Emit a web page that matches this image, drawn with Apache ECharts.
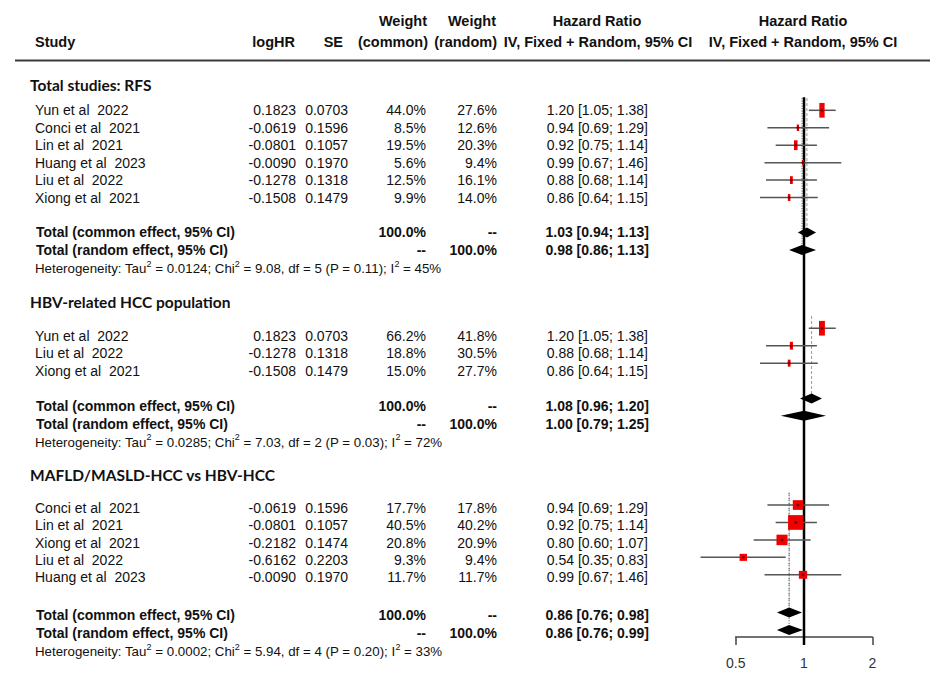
<!DOCTYPE html>
<html>
<head>
<meta charset="utf-8">
<script src="https://cdn.jsdelivr.net/npm/echarts@6/dist/echarts.min.js"></script>
<style>
html,body{margin:0;padding:0;background:#fff;}
#c{width:947px;height:682px;}
</style>
</head>
<body>
<div id="c"></div>
<script>
// ---------------- DATA ----------------
const headerRow1 = ["Weight", "Weight", "Hazard Ratio", "Hazard Ratio"];
const headerRow2 = ["Study", "logHR", "SE", "(common)", "(random)", "IV, Fixed + Random, 95% CI", "IV, Fixed + Random, 95% CI"];
const sectionTitles = ["Total studies: RFS", "HBV-related HCC population", "MAFLD/MASLD-HCC vs HBV-HCC"];
const totalLabels = ["Total (common effect, 95% CI)", "Total (random effect, 95% CI)"];
const xTicks = [0.5, 1, 2];

// Section 1 : Total studies: RFS
const s1Study   = ["Yun et al  2022", "Conci et al  2021", "Lin et al  2021", "Huang et al  2023", "Liu et al  2022", "Xiong et al  2021"];
const s1LogHR   = [0.1823, -0.0619, -0.0801, -0.0090, -0.1278, -0.1508];
const s1SE      = [0.0703, 0.1596, 0.1057, 0.1970, 0.1318, 0.1479];
const s1WCommon = [44.0, 8.5, 19.5, 5.6, 12.5, 9.9];
const s1WRandom = [27.6, 12.6, 20.3, 9.4, 16.1, 14.0];
const s1HR      = [1.20, 0.94, 0.92, 0.99, 0.88, 0.86];
const s1Lower   = [1.05, 0.69, 0.75, 0.67, 0.68, 0.64];
const s1Upper   = [1.38, 1.29, 1.14, 1.46, 1.14, 1.15];
const s1Common  = [1.03, 0.94, 1.13];
const s1Random  = [0.98, 0.86, 1.13];
const s1Het     = ["0.0124", "9.08", "5", "0.11", "45"];

// Section 2 : HBV-related HCC population
const s2Study   = ["Yun et al  2022", "Liu et al  2022", "Xiong et al  2021"];
const s2LogHR   = [0.1823, -0.1278, -0.1508];
const s2SE      = [0.0703, 0.1318, 0.1479];
const s2WCommon = [66.2, 18.8, 15.0];
const s2WRandom = [41.8, 30.5, 27.7];
const s2HR      = [1.20, 0.88, 0.86];
const s2Lower   = [1.05, 0.68, 0.64];
const s2Upper   = [1.38, 1.14, 1.15];
const s2Common  = [1.08, 0.96, 1.20];
const s2Random  = [1.00, 0.79, 1.25];
const s2Het     = ["0.0285", "7.03", "2", "0.03", "72"];

// Section 3 : MAFLD/MASLD-HCC vs HBV-HCC
const s3Study   = ["Conci et al  2021", "Lin et al  2021", "Xiong et al  2021", "Liu et al  2022", "Huang et al  2023"];
const s3LogHR   = [-0.0619, -0.0801, -0.2182, -0.6162, -0.0090];
const s3SE      = [0.1596, 0.1057, 0.1474, 0.2203, 0.1970];
const s3WCommon = [17.7, 40.5, 20.8, 9.3, 11.7];
const s3WRandom = [17.8, 40.2, 20.9, 9.4, 11.7];
const s3HR      = [0.94, 0.92, 0.80, 0.54, 0.99];
const s3Lower   = [0.69, 0.75, 0.60, 0.35, 0.67];
const s3Upper   = [1.29, 1.14, 1.07, 0.83, 1.46];
const s3Common  = [0.86, 0.76, 0.98];
const s3Random  = [0.86, 0.76, 0.99];
const s3Het     = ["0.0002", "5.94", "4", "0.20", "33"];

// ---------------- LAYOUT ----------------
const ROW_PX = 17.45, ROW0_PX = 110.3, AXIS_Y = 637, TICK_LEN = 8;
const Y_MIN = -ROW0_PX / ROW_PX, Y_MAX = (AXIS_Y - ROW0_PX) / ROW_PX;
const PLOT_LEFT = 735.7, PLOT_WIDTH = 136.6;
const layout = [
  { title: -1.45, first: 0,     total: 7,     shift: 0,     aspect: 0.36 },
  { title: 11,    first: 12.93, total: 16.95, shift: -0.44, aspect: 0.4 },
  { title: 20.9,  first: 22.77, total: 28.93, shift: -0.15, aspect: 1.05 }
];
const COL = { title: 30, study: 35, total: 36, logHR: 296, se: 348, wc: 426, wr: 497, hr: 648, hrBold: 649 };
const FONT = '"Liberation Sans", Arial, Helvetica, sans-serif';
const TITLE_FONT = 'Lato, "Open Sans", sans-serif';
const TXT = '#111';
const SQ_MAX = 14.7, DIA_HALF = 5;

const sections = [
  { study: s1Study, logHR: s1LogHR, se: s1SE, wc: s1WCommon, wr: s1WRandom, hr: s1HR, lo: s1Lower, hi: s1Upper, common: s1Common, random: s1Random, het: s1Het },
  { study: s2Study, logHR: s2LogHR, se: s2SE, wc: s2WCommon, wr: s2WRandom, hr: s2HR, lo: s2Lower, hi: s2Upper, common: s2Common, random: s2Random, het: s2Het },
  { study: s3Study, logHR: s3LogHR, se: s3SE, wc: s3WCommon, wr: s3WRandom, hr: s3HR, lo: s3Lower, hi: s3Upper, common: s3Common, random: s3Random, het: s3Het }
];

const fmtCI = (e, l, h) => e.toFixed(2) + ' [' + l.toFixed(2) + '; ' + h.toFixed(2) + ']';
const pct = v => v.toFixed(1) + '%';

// ---------------- TABLE ROWS ----------------
const tableRows = [];
function cell(x, text, align, opt) { return Object.assign({ x, text, align }, opt || {}); }
sections.forEach((s, k) => {
  const L = layout[k];
  tableRows.push({ r: L.title, cells: [cell(COL.title, sectionTitles[k], 'left', { font: 'bold 15.5px ' + TITLE_FONT })] });
  s.study.forEach((name, i) => {
    tableRows.push({ r: L.first + i, cells: [
      cell(COL.study, name, 'left'),
      cell(COL.logHR, s.logHR[i].toFixed(4), 'right'),
      cell(COL.se, s.se[i].toFixed(4), 'right'),
      cell(COL.wc, pct(s.wc[i]), 'right'),
      cell(COL.wr, pct(s.wr[i]), 'right'),
      cell(COL.hr, fmtCI(s.hr[i], s.lo[i], s.hi[i]), 'right')
    ]});
  });
  const B = { font: 'bold 14px ' + FONT };
  tableRows.push({ r: L.total, cells: [
    cell(COL.total, totalLabels[0], 'left', B),
    cell(COL.wc, '100.0%', 'right', B),
    cell(COL.wr, '--', 'right', B),
    cell(COL.hrBold, fmtCI(s.common[0], s.common[1], s.common[2]), 'right', B)
  ]});
  tableRows.push({ r: L.total + 1, cells: [
    cell(COL.total, totalLabels[1], 'left', B),
    cell(COL.wc, '--', 'right', B),
    cell(COL.wr, '100.0%', 'right', B),
    cell(COL.hrBold, fmtCI(s.random[0], s.random[1], s.random[2]), 'right', B)
  ]});
  const h = s.het;
  tableRows.push({ r: L.total + 2, cells: [
    cell(COL.study,
      '{n|Heterogeneity: Tau}{s|2}{n| = ' + h[0] + '; Chi}{s|2}{n| = ' + h[1] + ', df = ' + h[2] + ' (P = ' + h[3] + '); I}{s|2}{n| = ' + h[4] + '%}',
      'left', { rich: {
        n: { fontSize: 13.3, fontFamily: FONT, lineHeight: 16, fill: TXT, verticalAlign: 'bottom' },
        s: { fontSize: 9, fontFamily: FONT, lineHeight: 16, fill: TXT, verticalAlign: 'top' }
      } })
  ]});
});

// ---------------- FOREST ITEMS ----------------
const forestItems = [];
sections.forEach((s, k) => {
  const L = layout[k];
  const top = L.first + L.shift - 0.7;
  forestItems.push({ kind: 'ref', x: s.common[0], r0: top, r1: L.total + L.shift, dash: [3, 2], color: '#9a9a9a', width: 1 });
  forestItems.push({ kind: 'ref', x: s.random[0], r0: top, r1: L.total + 1 + L.shift, dash: [1, 1.5], color: '#555', width: 1 });
});
forestItems.push({ kind: 'solid', x: 1, r0: layout[0].first - 0.75, r1: Y_MAX });
sections.forEach((s, k) => {
  const L = layout[k];
  const wmax = Math.max.apply(null, s.wc);
  s.hr.forEach((v, i) => {
    forestItems.push({ kind: 'study', x: v, r0: L.first + i + L.shift, lo: s.lo[i], hi: s.hi[i], rel: Math.sqrt(s.wc[i] / wmax), aspect: L.aspect });
  });
  forestItems.push({ kind: 'diamond', x: s.common[0], r0: L.total + L.shift, lo: s.common[1], hi: s.common[2] });
  forestItems.push({ kind: 'diamond', x: s.random[0], r0: L.total + 1 + L.shift, lo: s.random[1], hi: s.random[2] });
});

function renderForest(params, api) {
  const it = forestItems[params.dataIndex];
  const P = (x, r) => api.coord([x, r]);
  if (it.kind === 'ref' || it.kind === 'solid') {
    const a = P(it.x, it.r0), b = P(it.x, it.r1);
    if (it.kind === 'solid') {
      return { type: 'line', shape: { x1: a[0], y1: a[1], x2: b[0], y2: b[1] + TICK_LEN }, style: { stroke: '#000', lineWidth: 2.5 } };
    }
    return { type: 'line', shape: { x1: a[0], y1: a[1], x2: b[0], y2: b[1] }, style: { stroke: it.color, lineWidth: it.width, lineDash: it.dash } };
  }
  const c = P(it.x, it.r0), l = P(it.lo, it.r0), h = P(it.hi, it.r0);
  if (it.kind === 'study') {
    const hh = SQ_MAX * it.rel, ww = hh * it.aspect;
    return { type: 'group', children: [
      { type: 'line', shape: { x1: l[0], y1: c[1], x2: h[0], y2: c[1] }, style: { stroke: '#555', lineWidth: 1.5 } },
      { type: 'rect', shape: { x: c[0] - ww / 2, y: c[1] - hh / 2, width: ww, height: hh }, style: { fill: '#f00000' } },
      { type: 'line', shape: { x1: c[0] - 1.5, y1: c[1], x2: c[0] + 1.5, y2: c[1] }, style: { stroke: '#550000', lineWidth: 1 } },
      { type: 'line', shape: { x1: c[0], y1: c[1] - 1.5, x2: c[0], y2: c[1] + 1.5 }, style: { stroke: '#550000', lineWidth: 1 } }
    ]};
  }
  return { type: 'polygon', shape: { points: [[l[0], c[1]], [c[0], c[1] - DIA_HALF], [h[0], c[1]], [c[0], c[1] + DIA_HALF]] }, style: { fill: '#000' } };
}

function renderTable(params, api) {
  const row = tableRows[params.dataIndex];
  const y = api.coord([1, api.value(1)])[1];
  return { type: 'group', children: row.cells.map(cl => {
    const st = { text: cl.text, align: cl.align, verticalAlign: 'middle', fill: TXT };
    if (cl.rich) { st.rich = cl.rich; st.fontSize = 13.3; st.fontFamily = FONT; }
    else { st.font = cl.font || ('14px ' + FONT); }
    return { type: 'text', x: cl.x, y: y, style: st };
  })};
}

// ---------------- HEADER (graphic) ----------------
const hdrFont = 'bold 14.5px ' + FONT;
const hdr = (x, y, text, align) => ({ type: 'text', x, y, silent: true, style: { text, font: hdrFont, fill: TXT, align, verticalAlign: 'middle' } });
const graphic = [
  hdr(427, 21, headerRow1[0], 'right'),
  hdr(496, 21, headerRow1[1], 'right'),
  hdr(597, 21, headerRow1[2], 'center'),
  hdr(803, 21, headerRow1[3], 'center'),
  hdr(35, 42, headerRow2[0], 'left'),
  hdr(295, 42, headerRow2[1], 'right'),
  hdr(343, 42, headerRow2[2], 'right'),
  hdr(428, 42, headerRow2[3], 'right'),
  hdr(497, 42, headerRow2[4], 'right'),
  hdr(598, 42, headerRow2[5], 'center'),
  hdr(803, 42, headerRow2[6], 'center'),
  { type: 'line', silent: true, shape: { x1: 15, y1: 60.5, x2: 930, y2: 60.5 }, style: { stroke: '#3a3a3a', lineWidth: 2 } }
];

// ---------------- CHART ----------------
const chart = echarts.init(document.getElementById('c'), null, { renderer: 'svg' });
chart.setOption({
  backgroundColor: '#fff',
  animation: false,
  graphic: graphic,
  grid: { left: PLOT_LEFT, width: PLOT_WIDTH, top: 0, height: AXIS_Y, containLabel: false },
  xAxis: {
    type: 'log', logBase: 2, min: xTicks[0], max: xTicks[xTicks.length - 1],
    axisLine: { show: true, onZero: false, lineStyle: { color: '#444', width: 1.5 } },
    axisTick: { show: true, length: TICK_LEN, lineStyle: { color: '#444', width: 1.5 } },
    axisLabel: { fontSize: 14, fontFamily: FONT, color: '#333', margin: 19,
      formatter: v => { const t = xTicks.find(q => Math.abs(q - v) < 1e-6); return t === undefined ? '' : String(t); } },
    splitLine: { show: false }
  },
  yAxis: { type: 'value', inverse: true, min: Y_MIN, max: Y_MAX, show: false },
  series: [
    { type: 'custom', name: 'forest', coordinateSystem: 'cartesian2d', clip: false, silent: true,
      renderItem: renderForest, encode: { x: 0, y: 1 },
      data: forestItems.map(it => [it.x, it.r0]) },
    { type: 'custom', name: 'table', coordinateSystem: 'cartesian2d', clip: false, silent: true,
      renderItem: renderTable, encode: { x: 0, y: 1 },
      data: tableRows.map(r => [1, r.r]) }
  ]
});
</script>
</body>
</html>
